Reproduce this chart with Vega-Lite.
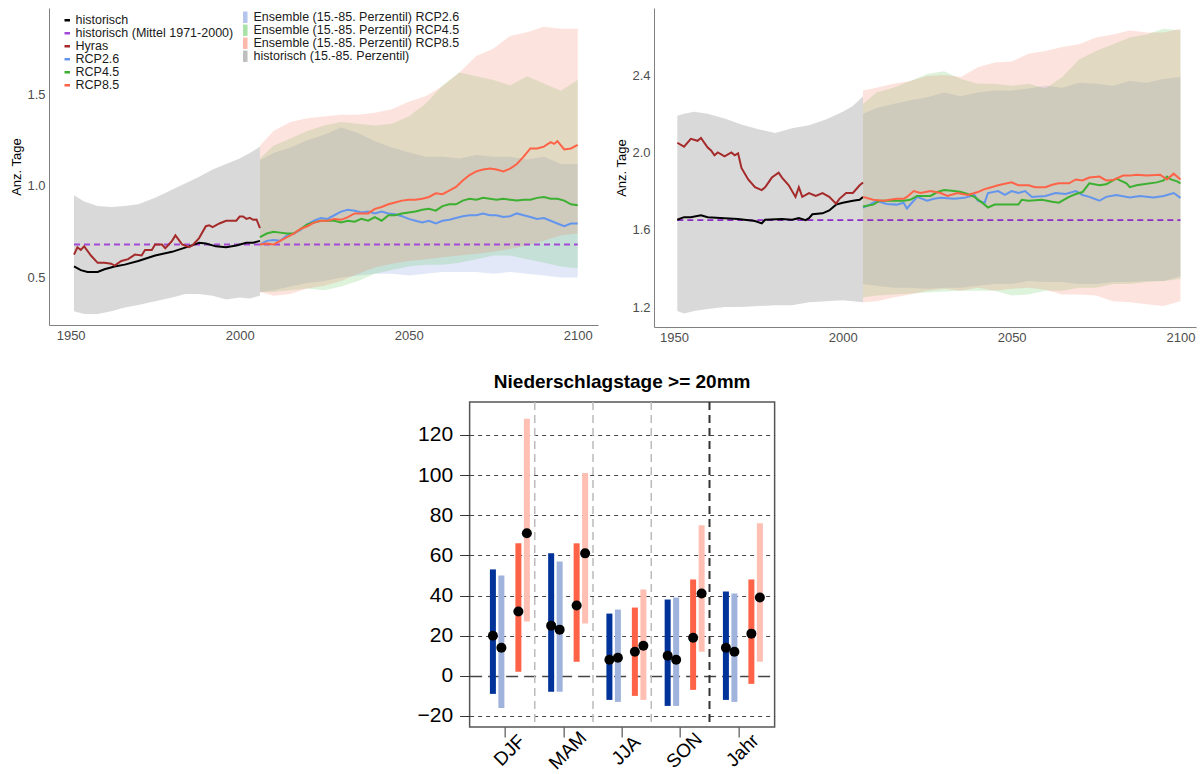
{
"$schema": "https://vega.github.io/schema/vega-lite/v6.json",
"padding": {"left": 10, "top": 8, "right": 2, "bottom": 0},
"background": "white",
"config": {"font": "Liberation Sans", "view": {"stroke": null}},
"datasets": {
"L_lines": [
{"s":"historisch","t":1951,"v":0.56},{"s":"historisch","t":1953,"v":0.54},{"s":"historisch","t":1955,"v":0.53},{"s":"historisch","t":1958,"v":0.53},{"s":"historisch","t":1960,"v":0.545},{"s":"historisch","t":1963,"v":0.56},{"s":"historisch","t":1966,"v":0.57},{"s":"historisch","t":1970,"v":0.59},{"s":"historisch","t":1975,"v":0.62},{"s":"historisch","t":1980,"v":0.64},{"s":"historisch","t":1985,"v":0.67},{"s":"historisch","t":1988,"v":0.69},{"s":"historisch","t":1990,"v":0.685},{"s":"historisch","t":1993,"v":0.67},{"s":"historisch","t":1996,"v":0.665},{"s":"historisch","t":1999,"v":0.675},{"s":"historisch","t":2002,"v":0.69},{"s":"historisch","t":2004,"v":0.69},{"s":"historisch","t":2006,"v":0.70},
{"s":"Hyras","t":1951,"v":0.625},{"s":"Hyras","t":1952,"v":0.665},{"s":"Hyras","t":1953,"v":0.65},{"s":"Hyras","t":1954,"v":0.67},{"s":"Hyras","t":1956,"v":0.62},{"s":"Hyras","t":1958,"v":0.58},{"s":"Hyras","t":1960,"v":0.58},{"s":"Hyras","t":1962,"v":0.575},{"s":"Hyras","t":1963,"v":0.565},{"s":"Hyras","t":1965,"v":0.59},{"s":"Hyras","t":1967,"v":0.60},{"s":"Hyras","t":1969,"v":0.625},{"s":"Hyras","t":1971,"v":0.62},{"s":"Hyras","t":1972,"v":0.65},{"s":"Hyras","t":1974,"v":0.65},{"s":"Hyras","t":1975,"v":0.68},{"s":"Hyras","t":1977,"v":0.68},{"s":"Hyras","t":1978,"v":0.66},{"s":"Hyras","t":1980,"v":0.70},{"s":"Hyras","t":1981,"v":0.73},{"s":"Hyras","t":1983,"v":0.68},{"s":"Hyras","t":1985,"v":0.665},{"s":"Hyras","t":1986,"v":0.675},{"s":"Hyras","t":1988,"v":0.715},{"s":"Hyras","t":1990,"v":0.78},{"s":"Hyras","t":1991,"v":0.785},{"s":"Hyras","t":1992,"v":0.775},{"s":"Hyras","t":1994,"v":0.795},{"s":"Hyras","t":1996,"v":0.81},{"s":"Hyras","t":1999,"v":0.81},{"s":"Hyras","t":2000,"v":0.833},{"s":"Hyras","t":2001,"v":0.833},{"s":"Hyras","t":2002,"v":0.82},{"s":"Hyras","t":2003,"v":0.826},{"s":"Hyras","t":2004,"v":0.815},{"s":"Hyras","t":2005,"v":0.817},{"s":"Hyras","t":2006,"v":0.77},
{"s":"RCP2.6","t":2006,"v":0.68},{"s":"RCP2.6","t":2008,"v":0.70},{"s":"RCP2.6","t":2010,"v":0.705},{"s":"RCP2.6","t":2012,"v":0.70},{"s":"RCP2.6","t":2014,"v":0.73},{"s":"RCP2.6","t":2016,"v":0.74},{"s":"RCP2.6","t":2018,"v":0.76},{"s":"RCP2.6","t":2020,"v":0.79},{"s":"RCP2.6","t":2022,"v":0.81},{"s":"RCP2.6","t":2024,"v":0.825},{"s":"RCP2.6","t":2026,"v":0.82},{"s":"RCP2.6","t":2028,"v":0.84},{"s":"RCP2.6","t":2030,"v":0.86},{"s":"RCP2.6","t":2032,"v":0.87},{"s":"RCP2.6","t":2034,"v":0.865},{"s":"RCP2.6","t":2036,"v":0.855},{"s":"RCP2.6","t":2038,"v":0.86},{"s":"RCP2.6","t":2040,"v":0.85},{"s":"RCP2.6","t":2042,"v":0.86},{"s":"RCP2.6","t":2044,"v":0.85},{"s":"RCP2.6","t":2046,"v":0.845},{"s":"RCP2.6","t":2048,"v":0.835},{"s":"RCP2.6","t":2050,"v":0.82},{"s":"RCP2.6","t":2052,"v":0.81},{"s":"RCP2.6","t":2054,"v":0.80},{"s":"RCP2.6","t":2056,"v":0.81},{"s":"RCP2.6","t":2058,"v":0.795},{"s":"RCP2.6","t":2060,"v":0.81},{"s":"RCP2.6","t":2062,"v":0.815},{"s":"RCP2.6","t":2064,"v":0.825},{"s":"RCP2.6","t":2066,"v":0.835},{"s":"RCP2.6","t":2068,"v":0.84},{"s":"RCP2.6","t":2070,"v":0.84},{"s":"RCP2.6","t":2072,"v":0.85},{"s":"RCP2.6","t":2074,"v":0.84},{"s":"RCP2.6","t":2076,"v":0.84},{"s":"RCP2.6","t":2078,"v":0.83},{"s":"RCP2.6","t":2080,"v":0.835},{"s":"RCP2.6","t":2082,"v":0.85},{"s":"RCP2.6","t":2084,"v":0.84},{"s":"RCP2.6","t":2086,"v":0.83},{"s":"RCP2.6","t":2088,"v":0.82},{"s":"RCP2.6","t":2090,"v":0.825},{"s":"RCP2.6","t":2092,"v":0.81},{"s":"RCP2.6","t":2094,"v":0.795},{"s":"RCP2.6","t":2096,"v":0.78},{"s":"RCP2.6","t":2098,"v":0.795},{"s":"RCP2.6","t":2100,"v":0.795},
{"s":"RCP4.5","t":2006,"v":0.72},{"s":"RCP4.5","t":2008,"v":0.74},{"s":"RCP4.5","t":2010,"v":0.75},{"s":"RCP4.5","t":2012,"v":0.745},{"s":"RCP4.5","t":2014,"v":0.74},{"s":"RCP4.5","t":2016,"v":0.74},{"s":"RCP4.5","t":2018,"v":0.765},{"s":"RCP4.5","t":2020,"v":0.79},{"s":"RCP4.5","t":2022,"v":0.80},{"s":"RCP4.5","t":2024,"v":0.81},{"s":"RCP4.5","t":2026,"v":0.81},{"s":"RCP4.5","t":2028,"v":0.81},{"s":"RCP4.5","t":2030,"v":0.80},{"s":"RCP4.5","t":2032,"v":0.81},{"s":"RCP4.5","t":2034,"v":0.805},{"s":"RCP4.5","t":2036,"v":0.82},{"s":"RCP4.5","t":2038,"v":0.81},{"s":"RCP4.5","t":2040,"v":0.83},{"s":"RCP4.5","t":2042,"v":0.81},{"s":"RCP4.5","t":2044,"v":0.84},{"s":"RCP4.5","t":2046,"v":0.84},{"s":"RCP4.5","t":2048,"v":0.85},{"s":"RCP4.5","t":2050,"v":0.855},{"s":"RCP4.5","t":2052,"v":0.86},{"s":"RCP4.5","t":2054,"v":0.87},{"s":"RCP4.5","t":2056,"v":0.875},{"s":"RCP4.5","t":2058,"v":0.865},{"s":"RCP4.5","t":2060,"v":0.89},{"s":"RCP4.5","t":2062,"v":0.90},{"s":"RCP4.5","t":2064,"v":0.90},{"s":"RCP4.5","t":2066,"v":0.92},{"s":"RCP4.5","t":2068,"v":0.93},{"s":"RCP4.5","t":2070,"v":0.925},{"s":"RCP4.5","t":2072,"v":0.935},{"s":"RCP4.5","t":2074,"v":0.93},{"s":"RCP4.5","t":2076,"v":0.925},{"s":"RCP4.5","t":2078,"v":0.93},{"s":"RCP4.5","t":2080,"v":0.925},{"s":"RCP4.5","t":2082,"v":0.92},{"s":"RCP4.5","t":2084,"v":0.925},{"s":"RCP4.5","t":2086,"v":0.925},{"s":"RCP4.5","t":2088,"v":0.935},{"s":"RCP4.5","t":2090,"v":0.94},{"s":"RCP4.5","t":2092,"v":0.93},{"s":"RCP4.5","t":2094,"v":0.93},{"s":"RCP4.5","t":2096,"v":0.92},{"s":"RCP4.5","t":2098,"v":0.90},{"s":"RCP4.5","t":2100,"v":0.895},
{"s":"RCP8.5","t":2006,"v":0.68},{"s":"RCP8.5","t":2008,"v":0.685},{"s":"RCP8.5","t":2010,"v":0.68},{"s":"RCP8.5","t":2012,"v":0.70},{"s":"RCP8.5","t":2014,"v":0.72},{"s":"RCP8.5","t":2016,"v":0.74},{"s":"RCP8.5","t":2018,"v":0.765},{"s":"RCP8.5","t":2020,"v":0.78},{"s":"RCP8.5","t":2022,"v":0.80},{"s":"RCP8.5","t":2024,"v":0.81},{"s":"RCP8.5","t":2026,"v":0.81},{"s":"RCP8.5","t":2028,"v":0.82},{"s":"RCP8.5","t":2030,"v":0.815},{"s":"RCP8.5","t":2032,"v":0.83},{"s":"RCP8.5","t":2034,"v":0.85},{"s":"RCP8.5","t":2036,"v":0.85},{"s":"RCP8.5","t":2038,"v":0.85},{"s":"RCP8.5","t":2040,"v":0.875},{"s":"RCP8.5","t":2042,"v":0.885},{"s":"RCP8.5","t":2044,"v":0.90},{"s":"RCP8.5","t":2046,"v":0.91},{"s":"RCP8.5","t":2048,"v":0.92},{"s":"RCP8.5","t":2050,"v":0.925},{"s":"RCP8.5","t":2052,"v":0.925},{"s":"RCP8.5","t":2054,"v":0.93},{"s":"RCP8.5","t":2056,"v":0.94},{"s":"RCP8.5","t":2058,"v":0.96},{"s":"RCP8.5","t":2060,"v":0.955},{"s":"RCP8.5","t":2062,"v":0.975},{"s":"RCP8.5","t":2064,"v":0.995},{"s":"RCP8.5","t":2066,"v":1.03},{"s":"RCP8.5","t":2068,"v":1.06},{"s":"RCP8.5","t":2070,"v":1.08},{"s":"RCP8.5","t":2072,"v":1.09},{"s":"RCP8.5","t":2074,"v":1.095},{"s":"RCP8.5","t":2076,"v":1.09},{"s":"RCP8.5","t":2078,"v":1.08},{"s":"RCP8.5","t":2080,"v":1.095},{"s":"RCP8.5","t":2082,"v":1.12},{"s":"RCP8.5","t":2084,"v":1.16},{"s":"RCP8.5","t":2086,"v":1.205},{"s":"RCP8.5","t":2088,"v":1.205},{"s":"RCP8.5","t":2090,"v":1.215},{"s":"RCP8.5","t":2092,"v":1.24},{"s":"RCP8.5","t":2093,"v":1.23},{"s":"RCP8.5","t":2094,"v":1.245},{"s":"RCP8.5","t":2096,"v":1.20},{"s":"RCP8.5","t":2098,"v":1.205},{"s":"RCP8.5","t":2100,"v":1.225}
],
"L_mean": [{"s":"historisch (Mittel 1971-2000)","t":1951,"v":0.68},{"s":"historisch (Mittel 1971-2000)","t":2100,"v":0.68}],
"L_bands": [
{"s":"historisch (15.-85. Perzentil)","t":1951,"lo":0.315,"hi":0.95},{"s":"historisch (15.-85. Perzentil)","t":1954,"lo":0.30,"hi":0.915},{"s":"historisch (15.-85. Perzentil)","t":1958,"lo":0.30,"hi":0.89},{"s":"historisch (15.-85. Perzentil)","t":1962,"lo":0.315,"hi":0.885},{"s":"historisch (15.-85. Perzentil)","t":1966,"lo":0.335,"hi":0.89},{"s":"historisch (15.-85. Perzentil)","t":1970,"lo":0.35,"hi":0.90},{"s":"historisch (15.-85. Perzentil)","t":1975,"lo":0.37,"hi":0.935},{"s":"historisch (15.-85. Perzentil)","t":1980,"lo":0.39,"hi":0.98},{"s":"historisch (15.-85. Perzentil)","t":1984,"lo":0.41,"hi":1.015},{"s":"historisch (15.-85. Perzentil)","t":1988,"lo":0.41,"hi":1.05},{"s":"historisch (15.-85. Perzentil)","t":1992,"lo":0.40,"hi":1.09},{"s":"historisch (15.-85. Perzentil)","t":1996,"lo":0.38,"hi":1.12},{"s":"historisch (15.-85. Perzentil)","t":2000,"lo":0.39,"hi":1.15},{"s":"historisch (15.-85. Perzentil)","t":2003,"lo":0.385,"hi":1.18},{"s":"historisch (15.-85. Perzentil)","t":2006,"lo":0.40,"hi":1.215},
{"s":"Ensemble (15.-85. Perzentil) RCP2.6","t":2006,"lo":0.42,"hi":1.14},{"s":"Ensemble (15.-85. Perzentil) RCP2.6","t":2010,"lo":0.43,"hi":1.18},{"s":"Ensemble (15.-85. Perzentil) RCP2.6","t":2015,"lo":0.45,"hi":1.21},{"s":"Ensemble (15.-85. Perzentil) RCP2.6","t":2020,"lo":0.47,"hi":1.25},{"s":"Ensemble (15.-85. Perzentil) RCP2.6","t":2025,"lo":0.48,"hi":1.28},{"s":"Ensemble (15.-85. Perzentil) RCP2.6","t":2030,"lo":0.50,"hi":1.32},{"s":"Ensemble (15.-85. Perzentil) RCP2.6","t":2035,"lo":0.51,"hi":1.29},{"s":"Ensemble (15.-85. Perzentil) RCP2.6","t":2040,"lo":0.52,"hi":1.245},{"s":"Ensemble (15.-85. Perzentil) RCP2.6","t":2045,"lo":0.52,"hi":1.21},{"s":"Ensemble (15.-85. Perzentil) RCP2.6","t":2050,"lo":0.51,"hi":1.185},{"s":"Ensemble (15.-85. Perzentil) RCP2.6","t":2055,"lo":0.52,"hi":1.16},{"s":"Ensemble (15.-85. Perzentil) RCP2.6","t":2060,"lo":0.53,"hi":1.16},{"s":"Ensemble (15.-85. Perzentil) RCP2.6","t":2065,"lo":0.53,"hi":1.15},{"s":"Ensemble (15.-85. Perzentil) RCP2.6","t":2070,"lo":0.53,"hi":1.17},{"s":"Ensemble (15.-85. Perzentil) RCP2.6","t":2075,"lo":0.52,"hi":1.16},{"s":"Ensemble (15.-85. Perzentil) RCP2.6","t":2080,"lo":0.53,"hi":1.16},{"s":"Ensemble (15.-85. Perzentil) RCP2.6","t":2085,"lo":0.52,"hi":1.145},{"s":"Ensemble (15.-85. Perzentil) RCP2.6","t":2090,"lo":0.51,"hi":1.16},{"s":"Ensemble (15.-85. Perzentil) RCP2.6","t":2095,"lo":0.50,"hi":1.12},{"s":"Ensemble (15.-85. Perzentil) RCP2.6","t":2100,"lo":0.50,"hi":1.12},
{"s":"Ensemble (15.-85. Perzentil) RCP4.5","t":2006,"lo":0.42,"hi":1.15},{"s":"Ensemble (15.-85. Perzentil) RCP4.5","t":2010,"lo":0.42,"hi":1.22},{"s":"Ensemble (15.-85. Perzentil) RCP4.5","t":2015,"lo":0.43,"hi":1.26},{"s":"Ensemble (15.-85. Perzentil) RCP4.5","t":2020,"lo":0.44,"hi":1.30},{"s":"Ensemble (15.-85. Perzentil) RCP4.5","t":2025,"lo":0.43,"hi":1.33},{"s":"Ensemble (15.-85. Perzentil) RCP4.5","t":2030,"lo":0.45,"hi":1.35},{"s":"Ensemble (15.-85. Perzentil) RCP4.5","t":2035,"lo":0.48,"hi":1.34},{"s":"Ensemble (15.-85. Perzentil) RCP4.5","t":2040,"lo":0.52,"hi":1.33},{"s":"Ensemble (15.-85. Perzentil) RCP4.5","t":2045,"lo":0.54,"hi":1.34},{"s":"Ensemble (15.-85. Perzentil) RCP4.5","t":2050,"lo":0.56,"hi":1.38},{"s":"Ensemble (15.-85. Perzentil) RCP4.5","t":2055,"lo":0.57,"hi":1.45},{"s":"Ensemble (15.-85. Perzentil) RCP4.5","t":2060,"lo":0.57,"hi":1.55},{"s":"Ensemble (15.-85. Perzentil) RCP4.5","t":2065,"lo":0.58,"hi":1.62},{"s":"Ensemble (15.-85. Perzentil) RCP4.5","t":2070,"lo":0.60,"hi":1.60},{"s":"Ensemble (15.-85. Perzentil) RCP4.5","t":2075,"lo":0.62,"hi":1.58},{"s":"Ensemble (15.-85. Perzentil) RCP4.5","t":2080,"lo":0.62,"hi":1.55},{"s":"Ensemble (15.-85. Perzentil) RCP4.5","t":2085,"lo":0.60,"hi":1.60},{"s":"Ensemble (15.-85. Perzentil) RCP4.5","t":2090,"lo":0.58,"hi":1.56},{"s":"Ensemble (15.-85. Perzentil) RCP4.5","t":2095,"lo":0.56,"hi":1.52},{"s":"Ensemble (15.-85. Perzentil) RCP4.5","t":2100,"lo":0.55,"hi":1.58},
{"s":"Ensemble (15.-85. Perzentil) RCP8.5","t":2006,"lo":0.42,"hi":1.22},{"s":"Ensemble (15.-85. Perzentil) RCP8.5","t":2010,"lo":0.40,"hi":1.30},{"s":"Ensemble (15.-85. Perzentil) RCP8.5","t":2015,"lo":0.41,"hi":1.35},{"s":"Ensemble (15.-85. Perzentil) RCP8.5","t":2020,"lo":0.44,"hi":1.37},{"s":"Ensemble (15.-85. Perzentil) RCP8.5","t":2025,"lo":0.455,"hi":1.38},{"s":"Ensemble (15.-85. Perzentil) RCP8.5","t":2030,"lo":0.48,"hi":1.39},{"s":"Ensemble (15.-85. Perzentil) RCP8.5","t":2035,"lo":0.52,"hi":1.39},{"s":"Ensemble (15.-85. Perzentil) RCP8.5","t":2040,"lo":0.555,"hi":1.40},{"s":"Ensemble (15.-85. Perzentil) RCP8.5","t":2045,"lo":0.575,"hi":1.42},{"s":"Ensemble (15.-85. Perzentil) RCP8.5","t":2050,"lo":0.59,"hi":1.46},{"s":"Ensemble (15.-85. Perzentil) RCP8.5","t":2055,"lo":0.60,"hi":1.49},{"s":"Ensemble (15.-85. Perzentil) RCP8.5","t":2060,"lo":0.61,"hi":1.545},{"s":"Ensemble (15.-85. Perzentil) RCP8.5","t":2065,"lo":0.62,"hi":1.62},{"s":"Ensemble (15.-85. Perzentil) RCP8.5","t":2070,"lo":0.63,"hi":1.71},{"s":"Ensemble (15.-85. Perzentil) RCP8.5","t":2075,"lo":0.64,"hi":1.75},{"s":"Ensemble (15.-85. Perzentil) RCP8.5","t":2080,"lo":0.655,"hi":1.82},{"s":"Ensemble (15.-85. Perzentil) RCP8.5","t":2085,"lo":0.675,"hi":1.84},{"s":"Ensemble (15.-85. Perzentil) RCP8.5","t":2090,"lo":0.70,"hi":1.87},{"s":"Ensemble (15.-85. Perzentil) RCP8.5","t":2095,"lo":0.73,"hi":1.86},{"s":"Ensemble (15.-85. Perzentil) RCP8.5","t":2100,"lo":0.74,"hi":1.86}
],
"R_lines": [
{"s":"historisch","t":1951,"v":1.652},{"s":"historisch","t":1953,"v":1.665},{"s":"historisch","t":1955,"v":1.665},{"s":"historisch","t":1958,"v":1.675},{"s":"historisch","t":1960,"v":1.665},{"s":"historisch","t":1965,"v":1.66},{"s":"historisch","t":1969,"v":1.655},{"s":"historisch","t":1974,"v":1.645},{"s":"historisch","t":1976,"v":1.633},{"s":"historisch","t":1977,"v":1.652},{"s":"historisch","t":1982,"v":1.655},{"s":"historisch","t":1985,"v":1.652},{"s":"historisch","t":1987,"v":1.66},{"s":"historisch","t":1989,"v":1.65},{"s":"historisch","t":1990,"v":1.66},{"s":"historisch","t":1991,"v":1.68},{"s":"historisch","t":1994,"v":1.685},{"s":"historisch","t":1996,"v":1.70},{"s":"historisch","t":1998,"v":1.73},{"s":"historisch","t":2000,"v":1.74},{"s":"historisch","t":2003,"v":1.75},{"s":"historisch","t":2005,"v":1.755},{"s":"historisch","t":2006,"v":1.77},
{"s":"Hyras","t":1951,"v":2.05},{"s":"Hyras","t":1953,"v":2.03},{"s":"Hyras","t":1955,"v":2.07},{"s":"Hyras","t":1957,"v":2.06},{"s":"Hyras","t":1958,"v":2.075},{"s":"Hyras","t":1960,"v":2.025},{"s":"Hyras","t":1961,"v":2.01},{"s":"Hyras","t":1962,"v":1.985},{"s":"Hyras","t":1963,"v":2.0},{"s":"Hyras","t":1965,"v":1.98},{"s":"Hyras","t":1967,"v":2.0},{"s":"Hyras","t":1968,"v":1.985},{"s":"Hyras","t":1969,"v":1.995},{"s":"Hyras","t":1970,"v":1.92},{"s":"Hyras","t":1972,"v":1.86},{"s":"Hyras","t":1974,"v":1.82},{"s":"Hyras","t":1976,"v":1.805},{"s":"Hyras","t":1977,"v":1.82},{"s":"Hyras","t":1979,"v":1.87},{"s":"Hyras","t":1981,"v":1.895},{"s":"Hyras","t":1982,"v":1.87},{"s":"Hyras","t":1984,"v":1.83},{"s":"Hyras","t":1986,"v":1.77},{"s":"Hyras","t":1987,"v":1.82},{"s":"Hyras","t":1988,"v":1.77},{"s":"Hyras","t":1990,"v":1.79},{"s":"Hyras","t":1992,"v":1.775},{"s":"Hyras","t":1994,"v":1.79},{"s":"Hyras","t":1996,"v":1.77},{"s":"Hyras","t":1998,"v":1.735},{"s":"Hyras","t":1999,"v":1.76},{"s":"Hyras","t":2001,"v":1.79},{"s":"Hyras","t":2003,"v":1.79},{"s":"Hyras","t":2005,"v":1.83},{"s":"Hyras","t":2006,"v":1.845},
{"s":"RCP2.6","t":2006,"v":1.715},{"s":"RCP2.6","t":2008,"v":1.73},{"s":"RCP2.6","t":2010,"v":1.75},{"s":"RCP2.6","t":2013,"v":1.733},{"s":"RCP2.6","t":2016,"v":1.73},{"s":"RCP2.6","t":2018,"v":1.74},{"s":"RCP2.6","t":2019,"v":1.71},{"s":"RCP2.6","t":2021,"v":1.75},{"s":"RCP2.6","t":2022,"v":1.77},{"s":"RCP2.6","t":2025,"v":1.75},{"s":"RCP2.6","t":2027,"v":1.76},{"s":"RCP2.6","t":2029,"v":1.765},{"s":"RCP2.6","t":2033,"v":1.76},{"s":"RCP2.6","t":2036,"v":1.765},{"s":"RCP2.6","t":2039,"v":1.78},{"s":"RCP2.6","t":2040,"v":1.75},{"s":"RCP2.6","t":2042,"v":1.74},{"s":"RCP2.6","t":2043,"v":1.79},{"s":"RCP2.6","t":2046,"v":1.80},{"s":"RCP2.6","t":2048,"v":1.78},{"s":"RCP2.6","t":2050,"v":1.80},{"s":"RCP2.6","t":2052,"v":1.79},{"s":"RCP2.6","t":2054,"v":1.80},{"s":"RCP2.6","t":2056,"v":1.77},{"s":"RCP2.6","t":2060,"v":1.775},{"s":"RCP2.6","t":2063,"v":1.79},{"s":"RCP2.6","t":2066,"v":1.785},{"s":"RCP2.6","t":2069,"v":1.80},{"s":"RCP2.6","t":2071,"v":1.78},{"s":"RCP2.6","t":2073,"v":1.77},{"s":"RCP2.6","t":2076,"v":1.75},{"s":"RCP2.6","t":2078,"v":1.77},{"s":"RCP2.6","t":2081,"v":1.78},{"s":"RCP2.6","t":2085,"v":1.767},{"s":"RCP2.6","t":2088,"v":1.775},{"s":"RCP2.6","t":2092,"v":1.767},{"s":"RCP2.6","t":2095,"v":1.775},{"s":"RCP2.6","t":2098,"v":1.79},{"s":"RCP2.6","t":2100,"v":1.765},
{"s":"RCP4.5","t":2006,"v":1.72},{"s":"RCP4.5","t":2009,"v":1.73},{"s":"RCP4.5","t":2011,"v":1.75},{"s":"RCP4.5","t":2015,"v":1.75},{"s":"RCP4.5","t":2018,"v":1.75},{"s":"RCP4.5","t":2020,"v":1.755},{"s":"RCP4.5","t":2022,"v":1.775},{"s":"RCP4.5","t":2026,"v":1.775},{"s":"RCP4.5","t":2028,"v":1.795},{"s":"RCP4.5","t":2030,"v":1.805},{"s":"RCP4.5","t":2033,"v":1.80},{"s":"RCP4.5","t":2035,"v":1.795},{"s":"RCP4.5","t":2037,"v":1.785},{"s":"RCP4.5","t":2039,"v":1.77},{"s":"RCP4.5","t":2042,"v":1.73},{"s":"RCP4.5","t":2043,"v":1.715},{"s":"RCP4.5","t":2045,"v":1.73},{"s":"RCP4.5","t":2048,"v":1.73},{"s":"RCP4.5","t":2052,"v":1.73},{"s":"RCP4.5","t":2053,"v":1.755},{"s":"RCP4.5","t":2055,"v":1.75},{"s":"RCP4.5","t":2059,"v":1.755},{"s":"RCP4.5","t":2062,"v":1.745},{"s":"RCP4.5","t":2064,"v":1.74},{"s":"RCP4.5","t":2067,"v":1.77},{"s":"RCP4.5","t":2069,"v":1.785},{"s":"RCP4.5","t":2071,"v":1.795},{"s":"RCP4.5","t":2073,"v":1.84},{"s":"RCP4.5","t":2076,"v":1.83},{"s":"RCP4.5","t":2078,"v":1.835},{"s":"RCP4.5","t":2081,"v":1.865},{"s":"RCP4.5","t":2084,"v":1.84},{"s":"RCP4.5","t":2085,"v":1.82},{"s":"RCP4.5","t":2087,"v":1.83},{"s":"RCP4.5","t":2089,"v":1.835},{"s":"RCP4.5","t":2093,"v":1.845},{"s":"RCP4.5","t":2095,"v":1.855},{"s":"RCP4.5","t":2096,"v":1.875},{"s":"RCP4.5","t":2097,"v":1.862},{"s":"RCP4.5","t":2099,"v":1.85},{"s":"RCP4.5","t":2100,"v":1.84},
{"s":"RCP8.5","t":2006,"v":1.77},{"s":"RCP8.5","t":2009,"v":1.755},{"s":"RCP8.5","t":2012,"v":1.75},{"s":"RCP8.5","t":2016,"v":1.76},{"s":"RCP8.5","t":2018,"v":1.76},{"s":"RCP8.5","t":2019,"v":1.77},{"s":"RCP8.5","t":2021,"v":1.80},{"s":"RCP8.5","t":2023,"v":1.79},{"s":"RCP8.5","t":2026,"v":1.80},{"s":"RCP8.5","t":2029,"v":1.79},{"s":"RCP8.5","t":2031,"v":1.775},{"s":"RCP8.5","t":2034,"v":1.79},{"s":"RCP8.5","t":2037,"v":1.78},{"s":"RCP8.5","t":2040,"v":1.795},{"s":"RCP8.5","t":2042,"v":1.81},{"s":"RCP8.5","t":2044,"v":1.82},{"s":"RCP8.5","t":2046,"v":1.83},{"s":"RCP8.5","t":2050,"v":1.845},{"s":"RCP8.5","t":2052,"v":1.83},{"s":"RCP8.5","t":2055,"v":1.83},{"s":"RCP8.5","t":2057,"v":1.82},{"s":"RCP8.5","t":2060,"v":1.82},{"s":"RCP8.5","t":2062,"v":1.833},{"s":"RCP8.5","t":2064,"v":1.84},{"s":"RCP8.5","t":2067,"v":1.84},{"s":"RCP8.5","t":2069,"v":1.86},{"s":"RCP8.5","t":2071,"v":1.855},{"s":"RCP8.5","t":2073,"v":1.87},{"s":"RCP8.5","t":2076,"v":1.875},{"s":"RCP8.5","t":2078,"v":1.855},{"s":"RCP8.5","t":2080,"v":1.857},{"s":"RCP8.5","t":2083,"v":1.88},{"s":"RCP8.5","t":2085,"v":1.88},{"s":"RCP8.5","t":2087,"v":1.885},{"s":"RCP8.5","t":2090,"v":1.88},{"s":"RCP8.5","t":2094,"v":1.885},{"s":"RCP8.5","t":2096,"v":1.86},{"s":"RCP8.5","t":2098,"v":1.89},{"s":"RCP8.5","t":2100,"v":1.86}
],
"R_mean": [{"s":"historisch (Mittel 1971-2000)","t":1951,"v":1.65},{"s":"historisch (Mittel 1971-2000)","t":2100,"v":1.65}],
"R_bands": [
{"s":"historisch (15.-85. Perzentil)","t":1951,"lo":1.18,"hi":2.19},{"s":"historisch (15.-85. Perzentil)","t":1953,"lo":1.167,"hi":2.20},{"s":"historisch (15.-85. Perzentil)","t":1956,"lo":1.18,"hi":2.21},{"s":"historisch (15.-85. Perzentil)","t":1960,"lo":1.19,"hi":2.20},{"s":"historisch (15.-85. Perzentil)","t":1965,"lo":1.20,"hi":2.175},{"s":"historisch (15.-85. Perzentil)","t":1970,"lo":1.20,"hi":2.145},{"s":"historisch (15.-85. Perzentil)","t":1975,"lo":1.205,"hi":2.12},{"s":"historisch (15.-85. Perzentil)","t":1980,"lo":1.21,"hi":2.10},{"s":"historisch (15.-85. Perzentil)","t":1985,"lo":1.21,"hi":2.125},{"s":"historisch (15.-85. Perzentil)","t":1990,"lo":1.225,"hi":2.14},{"s":"historisch (15.-85. Perzentil)","t":1995,"lo":1.23,"hi":2.17},{"s":"historisch (15.-85. Perzentil)","t":2000,"lo":1.235,"hi":2.21},{"s":"historisch (15.-85. Perzentil)","t":2003,"lo":1.23,"hi":2.24},{"s":"historisch (15.-85. Perzentil)","t":2006,"lo":1.225,"hi":2.29},
{"s":"Ensemble (15.-85. Perzentil) RCP2.6","t":2006,"lo":1.32,"hi":2.20},{"s":"Ensemble (15.-85. Perzentil) RCP2.6","t":2010,"lo":1.31,"hi":2.23},{"s":"Ensemble (15.-85. Perzentil) RCP2.6","t":2015,"lo":1.30,"hi":2.25},{"s":"Ensemble (15.-85. Perzentil) RCP2.6","t":2020,"lo":1.30,"hi":2.27},{"s":"Ensemble (15.-85. Perzentil) RCP2.6","t":2025,"lo":1.295,"hi":2.285},{"s":"Ensemble (15.-85. Perzentil) RCP2.6","t":2030,"lo":1.30,"hi":2.31},{"s":"Ensemble (15.-85. Perzentil) RCP2.6","t":2035,"lo":1.30,"hi":2.29},{"s":"Ensemble (15.-85. Perzentil) RCP2.6","t":2040,"lo":1.31,"hi":2.31},{"s":"Ensemble (15.-85. Perzentil) RCP2.6","t":2045,"lo":1.32,"hi":2.32},{"s":"Ensemble (15.-85. Perzentil) RCP2.6","t":2050,"lo":1.32,"hi":2.32},{"s":"Ensemble (15.-85. Perzentil) RCP2.6","t":2055,"lo":1.335,"hi":2.33},{"s":"Ensemble (15.-85. Perzentil) RCP2.6","t":2060,"lo":1.33,"hi":2.345},{"s":"Ensemble (15.-85. Perzentil) RCP2.6","t":2065,"lo":1.33,"hi":2.335},{"s":"Ensemble (15.-85. Perzentil) RCP2.6","t":2070,"lo":1.32,"hi":2.36},{"s":"Ensemble (15.-85. Perzentil) RCP2.6","t":2075,"lo":1.32,"hi":2.355},{"s":"Ensemble (15.-85. Perzentil) RCP2.6","t":2080,"lo":1.33,"hi":2.345},{"s":"Ensemble (15.-85. Perzentil) RCP2.6","t":2085,"lo":1.33,"hi":2.37},{"s":"Ensemble (15.-85. Perzentil) RCP2.6","t":2090,"lo":1.335,"hi":2.36},{"s":"Ensemble (15.-85. Perzentil) RCP2.6","t":2095,"lo":1.335,"hi":2.38},{"s":"Ensemble (15.-85. Perzentil) RCP2.6","t":2100,"lo":1.36,"hi":2.39},
{"s":"Ensemble (15.-85. Perzentil) RCP4.5","t":2006,"lo":1.25,"hi":2.25},{"s":"Ensemble (15.-85. Perzentil) RCP4.5","t":2010,"lo":1.26,"hi":2.31},{"s":"Ensemble (15.-85. Perzentil) RCP4.5","t":2015,"lo":1.265,"hi":2.335},{"s":"Ensemble (15.-85. Perzentil) RCP4.5","t":2020,"lo":1.27,"hi":2.37},{"s":"Ensemble (15.-85. Perzentil) RCP4.5","t":2025,"lo":1.275,"hi":2.405},{"s":"Ensemble (15.-85. Perzentil) RCP4.5","t":2030,"lo":1.28,"hi":2.42},{"s":"Ensemble (15.-85. Perzentil) RCP4.5","t":2035,"lo":1.285,"hi":2.38},{"s":"Ensemble (15.-85. Perzentil) RCP4.5","t":2040,"lo":1.285,"hi":2.355},{"s":"Ensemble (15.-85. Perzentil) RCP4.5","t":2045,"lo":1.285,"hi":2.355},{"s":"Ensemble (15.-85. Perzentil) RCP4.5","t":2050,"lo":1.26,"hi":2.345},{"s":"Ensemble (15.-85. Perzentil) RCP4.5","t":2055,"lo":1.265,"hi":2.355},{"s":"Ensemble (15.-85. Perzentil) RCP4.5","t":2060,"lo":1.285,"hi":2.33},{"s":"Ensemble (15.-85. Perzentil) RCP4.5","t":2065,"lo":1.285,"hi":2.39},{"s":"Ensemble (15.-85. Perzentil) RCP4.5","t":2070,"lo":1.30,"hi":2.48},{"s":"Ensemble (15.-85. Perzentil) RCP4.5","t":2075,"lo":1.30,"hi":2.525},{"s":"Ensemble (15.-85. Perzentil) RCP4.5","t":2080,"lo":1.32,"hi":2.56},{"s":"Ensemble (15.-85. Perzentil) RCP4.5","t":2085,"lo":1.32,"hi":2.595},{"s":"Ensemble (15.-85. Perzentil) RCP4.5","t":2090,"lo":1.33,"hi":2.61},{"s":"Ensemble (15.-85. Perzentil) RCP4.5","t":2095,"lo":1.335,"hi":2.64},{"s":"Ensemble (15.-85. Perzentil) RCP4.5","t":2100,"lo":1.345,"hi":2.63},
{"s":"Ensemble (15.-85. Perzentil) RCP8.5","t":2006,"lo":1.225,"hi":2.32},{"s":"Ensemble (15.-85. Perzentil) RCP8.5","t":2010,"lo":1.23,"hi":2.335},{"s":"Ensemble (15.-85. Perzentil) RCP8.5","t":2015,"lo":1.25,"hi":2.355},{"s":"Ensemble (15.-85. Perzentil) RCP8.5","t":2020,"lo":1.265,"hi":2.37},{"s":"Ensemble (15.-85. Perzentil) RCP8.5","t":2025,"lo":1.285,"hi":2.395},{"s":"Ensemble (15.-85. Perzentil) RCP8.5","t":2030,"lo":1.295,"hi":2.40},{"s":"Ensemble (15.-85. Perzentil) RCP8.5","t":2035,"lo":1.285,"hi":2.39},{"s":"Ensemble (15.-85. Perzentil) RCP8.5","t":2040,"lo":1.30,"hi":2.44},{"s":"Ensemble (15.-85. Perzentil) RCP8.5","t":2045,"lo":1.285,"hi":2.465},{"s":"Ensemble (15.-85. Perzentil) RCP8.5","t":2050,"lo":1.295,"hi":2.47},{"s":"Ensemble (15.-85. Perzentil) RCP8.5","t":2055,"lo":1.30,"hi":2.51},{"s":"Ensemble (15.-85. Perzentil) RCP8.5","t":2060,"lo":1.29,"hi":2.525},{"s":"Ensemble (15.-85. Perzentil) RCP8.5","t":2065,"lo":1.265,"hi":2.545},{"s":"Ensemble (15.-85. Perzentil) RCP8.5","t":2070,"lo":1.265,"hi":2.56},{"s":"Ensemble (15.-85. Perzentil) RCP8.5","t":2075,"lo":1.26,"hi":2.595},{"s":"Ensemble (15.-85. Perzentil) RCP8.5","t":2080,"lo":1.23,"hi":2.61},{"s":"Ensemble (15.-85. Perzentil) RCP8.5","t":2085,"lo":1.225,"hi":2.63},{"s":"Ensemble (15.-85. Perzentil) RCP8.5","t":2090,"lo":1.215,"hi":2.62},{"s":"Ensemble (15.-85. Perzentil) RCP8.5","t":2095,"lo":1.205,"hi":2.62},{"s":"Ensemble (15.-85. Perzentil) RCP8.5","t":2100,"lo":1.23,"hi":2.64}
],
"bars": [
{"cat":"DJF","s":"RCP2.6 2021-2050","lo":-9,"hi":53,"m":20},{"cat":"DJF","s":"RCP2.6 2071-2100","lo":-16,"hi":50,"m":14},{"cat":"DJF","s":"RCP8.5 2021-2050","lo":2,"hi":66,"m":32},{"cat":"DJF","s":"RCP8.5 2071-2100","lo":27,"hi":128,"m":71},
{"cat":"MAM","s":"RCP2.6 2021-2050","lo":-8,"hi":61,"m":25},{"cat":"MAM","s":"RCP2.6 2071-2100","lo":-8,"hi":57,"m":23},{"cat":"MAM","s":"RCP8.5 2021-2050","lo":7,"hi":66,"m":35},{"cat":"MAM","s":"RCP8.5 2071-2100","lo":26,"hi":101,"m":61},
{"cat":"JJA","s":"RCP2.6 2021-2050","lo":-12,"hi":31,"m":8},{"cat":"JJA","s":"RCP2.6 2071-2100","lo":-13,"hi":33,"m":9},{"cat":"JJA","s":"RCP8.5 2021-2050","lo":-10,"hi":34,"m":12},{"cat":"JJA","s":"RCP8.5 2071-2100","lo":-12,"hi":43,"m":15},
{"cat":"SON","s":"RCP2.6 2021-2050","lo":-15,"hi":38,"m":10},{"cat":"SON","s":"RCP2.6 2071-2100","lo":-15,"hi":39,"m":8},{"cat":"SON","s":"RCP8.5 2021-2050","lo":-7,"hi":48,"m":19},{"cat":"SON","s":"RCP8.5 2071-2100","lo":12,"hi":75,"m":41},
{"cat":"Jahr","s":"RCP2.6 2021-2050","lo":-12,"hi":42,"m":14},{"cat":"Jahr","s":"RCP2.6 2071-2100","lo":-13,"hi":41,"m":12},{"cat":"Jahr","s":"RCP8.5 2021-2050","lo":-4,"hi":48,"m":21},{"cat":"Jahr","s":"RCP8.5 2071-2100","lo":7,"hi":76,"m":39}
],
"seps": [{"cat":"DJF","kind":"light"},{"cat":"MAM","kind":"light"},{"cat":"JJA","kind":"light"},{"cat":"SON","kind":"dark"}]
},
"spacing": 28,
"center": true,
"resolve": {"scale": {"stroke": "independent", "fill": "independent", "color": "independent"}},
"vconcat": [
{
"spacing": 17,
"resolve": {"scale": {"stroke": "independent", "fill": "independent", "color": "independent"}},
"hconcat": [
{
"width": 549, "height": 317,
"encoding": {
"x": {"field": "t", "type": "quantitative", "scale": {"domain": [1943.6, 2106], "nice": false, "zero": false}, "axis": {"title": null, "values": [1950, 2000, 2050, 2100], "format": "d", "grid": false, "ticks": false, "domainColor": "#808080", "labelColor": "#4d4d4d", "labelFontSize": 13, "labelPadding": 4}}
},
"layer": [
{"data": {"name": "L_bands"}, "transform": [{"filter": "datum.s === 'historisch (15.-85. Perzentil)'"}],
 "mark": {"type": "area", "fillOpacity": 0.3},
 "encoding": {
  "y": {"field": "lo", "type": "quantitative", "scale": {"domain": [0.24, 1.973], "nice": false, "zero": false}, "axis": {"title": "Anz. Tage", "values": [0.5, 1.0, 1.5], "format": ".1f", "grid": false, "ticks": false, "domainColor": "#808080", "labelColor": "#4d4d4d", "labelFontSize": 13, "labelPadding": 4, "titleFontSize": 13, "titleFontWeight": "normal", "titleColor": "#000000", "titlePadding": 3}},
  "y2": {"field": "hi"},
  "fill": {"field": "s", "type": "nominal", "scale": {"domain": ["Ensemble (15.-85. Perzentil) RCP2.6", "Ensemble (15.-85. Perzentil) RCP4.5", "Ensemble (15.-85. Perzentil) RCP8.5", "historisch (15.-85. Perzentil)"], "range": ["#6e8cdc", "#55c350", "#f57355", "#808080"]},
   "legend": {"orient": "none", "legendX": 190, "legendY": 3, "title": null, "symbolType": "M-0.4,-1H0.4V1H-0.4Z", "symbolSize": 130, "symbolOpacity": 0.5, "symbolStrokeWidth": 0, "labelFontSize": 12.5, "labelLimit": 0, "labelColor": "#1a1a1a", "rowPadding": 0, "labelOffset": 2, "padding": 0}}
 }},
{"data": {"name": "L_bands"}, "transform": [{"filter": "datum.s !== 'historisch (15.-85. Perzentil)'"}],
 "mark": {"type": "area", "fillOpacity": 0.2},
 "encoding": {
  "y": {"field": "lo", "type": "quantitative"},
  "y2": {"field": "hi"},
  "fill": {"field": "s", "type": "nominal", "scale": {"domain": ["Ensemble (15.-85. Perzentil) RCP2.6", "Ensemble (15.-85. Perzentil) RCP4.5", "Ensemble (15.-85. Perzentil) RCP8.5", "historisch (15.-85. Perzentil)"], "range": ["#6e8cdc", "#55c350", "#f57355", "#808080"]},
   "legend": {"orient": "none", "legendX": 190, "legendY": 3, "title": null, "symbolType": "M-0.4,-1H0.4V1H-0.4Z", "symbolSize": 130, "symbolOpacity": 0.5, "symbolStrokeWidth": 0, "labelFontSize": 12.5, "labelLimit": 0, "labelColor": "#1a1a1a", "rowPadding": 0, "labelOffset": 2, "padding": 0}}
 }},
{"data": {"name": "L_mean"},
 "mark": {"type": "line", "strokeWidth": 1.8, "strokeDash": [6, 4]},
 "encoding": {
  "y": {"field": "v", "type": "quantitative"},
  "stroke": {"field": "s", "type": "nominal", "scale": {"domain": ["historisch", "historisch (Mittel 1971-2000)", "Hyras", "RCP2.6", "RCP4.5", "RCP8.5"], "range": ["#000000", "#a349d6", "#a52a2a", "#6495ed", "#3cb030", "#ff6347"]},
   "legend": {"orient": "none", "legendX": 12, "legendY": 6, "title": null, "symbolType": "stroke", "symbolSize": 30, "symbolStrokeWidth": 2.5, "symbolDash": [1, 0], "labelFontSize": 12.5, "labelColor": "#1a1a1a", "rowPadding": 0, "labelOffset": 2, "padding": 0}}
 }},
{"data": {"name": "L_lines"},
 "mark": {"type": "line", "strokeWidth": 2},
 "encoding": {
  "y": {"field": "v", "type": "quantitative"},
  "stroke": {"field": "s", "type": "nominal", "scale": {"domain": ["historisch", "historisch (Mittel 1971-2000)", "Hyras", "RCP2.6", "RCP4.5", "RCP8.5"], "range": ["#000000", "#a349d6", "#a52a2a", "#6495ed", "#3cb030", "#ff6347"]},
   "legend": {"orient": "none", "legendX": 12, "legendY": 6, "title": null, "symbolType": "stroke", "symbolSize": 30, "symbolStrokeWidth": 2.5, "symbolDash": [1, 0], "labelFontSize": 12.5, "labelColor": "#1a1a1a", "rowPadding": 0, "labelOffset": 2, "padding": 0}}
 }}
]
},
{
"width": 542, "height": 319,
"encoding": {
"x": {"field": "t", "type": "quantitative", "scale": {"domain": [1944.1, 2104.6], "nice": false, "zero": false}, "axis": {"title": null, "values": [1950, 2000, 2050, 2100], "format": "d", "grid": false, "ticks": false, "domainColor": "#808080", "labelColor": "#4d4d4d", "labelFontSize": 13, "labelPadding": 4}}
},
"layer": [
{"data": {"name": "R_bands"}, "transform": [{"filter": "datum.s === 'historisch (15.-85. Perzentil)'"}],
 "mark": {"type": "area", "fillOpacity": 0.3},
 "encoding": {
  "y": {"field": "lo", "type": "quantitative", "scale": {"domain": [1.097, 2.747], "nice": false, "zero": false}, "axis": {"title": "Anz. Tage", "values": [1.2, 1.6, 2.0, 2.4], "format": ".1f", "grid": false, "ticks": false, "domainColor": "#808080", "labelColor": "#4d4d4d", "labelFontSize": 13, "labelPadding": 4, "titleFontSize": 13, "titleFontWeight": "normal", "titleColor": "#000000", "titlePadding": 3}},
  "y2": {"field": "hi"},
  "fill": {"field": "s", "type": "nominal", "scale": {"domain": ["Ensemble (15.-85. Perzentil) RCP2.6", "Ensemble (15.-85. Perzentil) RCP4.5", "Ensemble (15.-85. Perzentil) RCP8.5", "historisch (15.-85. Perzentil)"], "range": ["#6e8cdc", "#55c350", "#f57355", "#808080"]}, "legend": null}
 }},
{"data": {"name": "R_bands"}, "transform": [{"filter": "datum.s !== 'historisch (15.-85. Perzentil)'"}],
 "mark": {"type": "area", "fillOpacity": 0.2},
 "encoding": {
  "y": {"field": "lo", "type": "quantitative"},
  "y2": {"field": "hi"},
  "fill": {"field": "s", "type": "nominal", "scale": {"domain": ["Ensemble (15.-85. Perzentil) RCP2.6", "Ensemble (15.-85. Perzentil) RCP4.5", "Ensemble (15.-85. Perzentil) RCP8.5", "historisch (15.-85. Perzentil)"], "range": ["#6e8cdc", "#55c350", "#f57355", "#808080"]}, "legend": null}
 }},
{"data": {"name": "R_mean"},
 "mark": {"type": "line", "strokeWidth": 1.8, "strokeDash": [6, 4]},
 "encoding": {
  "y": {"field": "v", "type": "quantitative"},
  "stroke": {"field": "s", "type": "nominal", "scale": {"domain": ["historisch", "historisch (Mittel 1971-2000)", "Hyras", "RCP2.6", "RCP4.5", "RCP8.5"], "range": ["#000000", "#8e2bc8", "#a52a2a", "#6495ed", "#3cb030", "#ff6347"]}, "legend": null}
 }},
{"data": {"name": "R_lines"},
 "mark": {"type": "line", "strokeWidth": 2},
 "encoding": {
  "y": {"field": "v", "type": "quantitative"},
  "stroke": {"field": "s", "type": "nominal", "scale": {"domain": ["historisch", "historisch (Mittel 1971-2000)", "Hyras", "RCP2.6", "RCP4.5", "RCP8.5"], "range": ["#000000", "#8e2bc8", "#a52a2a", "#6495ed", "#3cb030", "#ff6347"]}, "legend": null}
 }}
]
}
]
},
{
"width": 305, "height": 325,
"title": {"text": "Niederschlagstage >= 20mm", "fontSize": 19, "fontWeight": "bold", "font": "Liberation Sans", "color": "#000000", "offset": 9},
"view": {"stroke": "#555555", "strokeWidth": 1.5},
"encoding": {
"x": {"field": "cat", "type": "nominal", "sort": null, "scale": {"type": "band", "domain": ["DJF", "MAM", "JJA", "SON", "Jahr"], "paddingInner": 0, "paddingOuter": 0.118},
 "axis": {"title": null, "labelAngle": -45, "labelAlign": "center", "labelBaseline": "middle", "labelFontSize": 19, "labelColor": "#000000", "tickSize": 10, "tickColor": "#333333", "domain": false, "grid": false, "labelPadding": 13, "labelOffset": 4}}
},
"layer": [
{"data": {"name": "seps"}, "transform": [{"filter": "datum.kind === 'light'"}],
 "mark": {"type": "rule", "color": "#bbbbbb", "strokeWidth": 1.5, "strokeDash": [8, 5]},
 "encoding": {"x": {"field": "cat", "type": "nominal", "bandPosition": 1}}},
{"data": {"name": "seps"}, "transform": [{"filter": "datum.kind === 'dark'"}],
 "mark": {"type": "rule", "color": "#333333", "strokeWidth": 2, "strokeDash": [8, 5]},
 "encoding": {"x": {"field": "cat", "type": "nominal", "bandPosition": 1}}},
{"data": {"name": "bars"},
 "mark": {"type": "rule", "strokeWidth": 6, "strokeCap": "butt"},
 "encoding": {
  "xOffset": {"field": "s", "type": "nominal", "scale": {"domain": ["RCP2.6 2021-2050", "RCP2.6 2071-2100", "gap", "RCP8.5 2021-2050", "RCP8.5 2071-2100"], "paddingOuter": 0.93, "paddingInner": 0, "align": 0.77}},
  "y": {"field": "lo", "type": "quantitative", "scale": {"domain": [-25.5, 136.4], "nice": false, "zero": false},
   "axis": {"title": null, "values": [-20, 0, 20, 40, 60, 80, 100, 120], "labelFontSize": 21, "labelColor": "#000000", "tickSize": 10, "tickColor": "#333333", "domain": false, "grid": true, "gridColor": "#444444", "gridDash": {"condition": {"test": "datum.value === 0", "value": [12, 6]}, "value": [4, 4]}, "gridWidth": {"condition": {"test": "datum.value === 0", "value": 1.5}, "value": 1}, "labelPadding": 7}},
  "y2": {"field": "hi"},
  "color": {"field": "s", "type": "nominal", "scale": {"domain": ["RCP2.6 2021-2050", "RCP2.6 2071-2100", "RCP8.5 2021-2050", "RCP8.5 2071-2100"], "range": ["#003399", "#a0b3dd", "#ff6347", "#ffbfb3"]}, "legend": null}
 }},
{"data": {"name": "bars"},
 "mark": {"type": "circle", "size": 100, "color": "#000000", "opacity": 1},
 "encoding": {
  "xOffset": {"field": "s", "type": "nominal"},
  "y": {"field": "m", "type": "quantitative"}
 }}
]
}
]
}
